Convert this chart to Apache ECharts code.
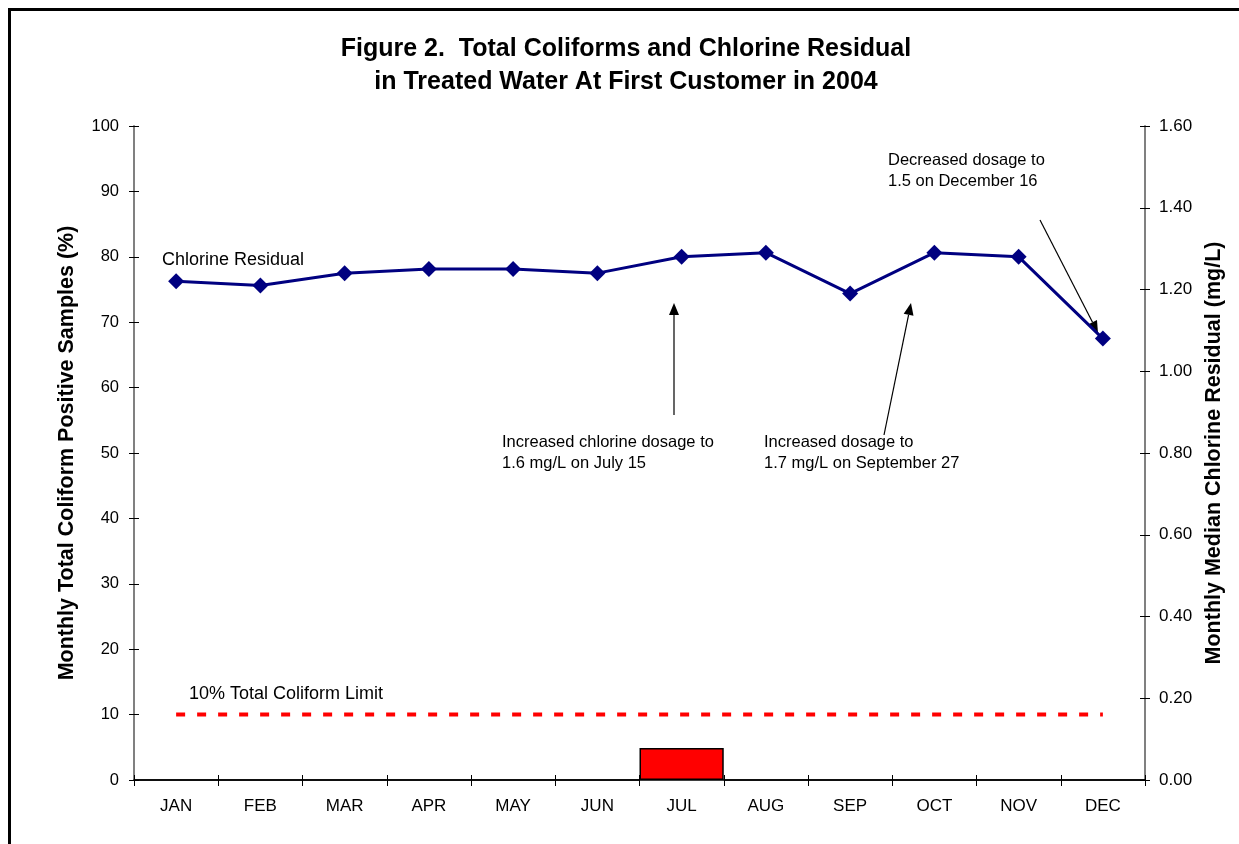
<!DOCTYPE html>
<html><head><meta charset="utf-8">
<script src="https://cdn.jsdelivr.net/npm/echarts@6/dist/echarts.min.js"></script>
<style>html,body{margin:0;padding:0;background:#fff}#c{width:1239px;height:844px}</style>
</head><body><div id="c"></div>
<script>
const months = ['JAN','FEB','MAR','APR','MAY','JUN','JUL','AUG','SEP','OCT','NOV','DEC'];
const coliformPct = [0,0,0,0,0,0,4.9,0,0,0,0,0];
const chlorine = [1.22,1.21,1.24,1.25,1.25,1.24,1.28,1.29,1.19,1.29,1.28,1.08];
const coliformLimit = [10,10,10,10,10,10,10,10,10,10,10,10];
const leftTicks = {min:0,max:100,interval:10};
const rightTicks = {min:0,max:1.6,interval:0.2};

const F = 'Liberation Sans, Arial, sans-serif';
const chart = echarts.init(document.getElementById('c'));
const txt = (x,y,t,size)=>({type:'text',x:x,y:y,style:{text:t,font:(size||16.5)+'px '+F,fill:'#000',verticalAlign:'middle'}});
const arrow = (x1,y1,x2,y2)=>{
  const a=Math.atan2(y2-y1,x2-x1), L=12, W=5;
  const bx=x2-L*Math.cos(a), by=y2-L*Math.sin(a);
  const px=-Math.sin(a)*W, py=Math.cos(a)*W;
  return [
    {type:'line',shape:{x1,y1,x2:bx,y2:by},style:{stroke:'#000',lineWidth:1.2}},
    {type:'polygon',shape:{points:[[x2,y2],[bx+px,by+py],[bx-px,by-py]]},style:{fill:'#000'}}
  ];
};
const innerTickAxis = (extra)=>Object.assign({axisLine:{show:false},axisLabel:{show:false},splitLine:{show:false},
  axisTick:{show:true,inside:true,length:5,lineStyle:{color:'#000'}}},extra);
chart.setOption({
  animation:false,
  grid:{left:134,right:94,top:126,bottom:64},
  xAxis:[{type:'category',data:months,boundaryGap:true,
    axisLine:{lineStyle:{color:'#000',width:1.5}},
    axisTick:{show:true,length:6,lineStyle:{color:'#000'}},
    axisLabel:{fontFamily:F,fontSize:17,color:'#000',margin:18}},
    innerTickAxis({type:'category',data:months,boundaryGap:true,position:'bottom'})],
  yAxis:[
    {type:'value',...leftTicks,position:'left',
     name:'Monthly Total Coliform Positive Samples (%)',nameLocation:'middle',nameGap:56,
     nameTextStyle:{fontFamily:F,fontSize:21.5,fontWeight:'bold',color:'#000'},
     axisLine:{show:true,lineStyle:{color:'#808080',width:2}},
     axisTick:{show:true,length:5,lineStyle:{color:'#000'}},
     splitLine:{show:false},
     axisLabel:{fontFamily:F,fontSize:16.5,color:'#000',margin:15}},
    {type:'value',...rightTicks,position:'right',
     name:'Monthly Median Chlorine Residual (mg/L)',nameLocation:'middle',nameGap:58,nameRotate:90,
     nameTextStyle:{fontFamily:F,fontSize:21.5,fontWeight:'bold',color:'#000'},
     axisLine:{show:true,lineStyle:{color:'#808080',width:2}},
     axisTick:{show:true,length:5,lineStyle:{color:'#000'}},
     splitLine:{show:false},
     axisLabel:{fontFamily:F,fontSize:17,color:'#000',margin:14,formatter:v=>v.toFixed(2)}},
    innerTickAxis({type:'value',...leftTicks,position:'left'}),
    innerTickAxis({type:'value',...rightTicks,position:'right'})
  ],
  series:[
    {type:'bar',data:coliformPct,yAxisIndex:0,barWidth:'100%',barCategoryGap:0,
     itemStyle:{color:'#ff0000',borderColor:'#000',borderWidth:1.5}},
    {type:'line',data:coliformLimit,yAxisIndex:0,symbol:'none',
     lineStyle:{color:'#ff0000',width:4,type:[9,12]}},
    {type:'line',data:chlorine,yAxisIndex:1,symbol:'diamond',symbolSize:16,
     lineStyle:{color:'#000080',width:3},itemStyle:{color:'#000080'}}
  ],
  graphic:[
    {type:'rect',shape:{x:9.5,y:9.5,width:1400,height:1000},style:{fill:'none',stroke:'#000',lineWidth:3}},
    {type:'text',x:626,y:49,style:{text:'Figure 2.  Total Coliforms and Chlorine Residual',font:'bold 25px '+F,fill:'#000',align:'center',verticalAlign:'middle'}},
    {type:'text',x:626,y:82,style:{text:'in Treated Water At First Customer in 2004',font:'bold 25px '+F,fill:'#000',align:'center',verticalAlign:'middle'}},
    txt(162,260,'Chlorine Residual',18),
    txt(189,694,'10% Total Coliform Limit',18),
    txt(502,442,'Increased chlorine dosage to'),
    txt(502,463,'1.6 mg/L on July 15'),
    txt(764,442,'Increased dosage to'),
    txt(764,463,'1.7 mg/L on September 27'),
    txt(888,160,'Decreased dosage to'),
    txt(888,181,'1.5 on December 16'),
    ...arrow(674,415,674,303),
    ...arrow(884,435,911,303),
    ...arrow(1040,220,1098,333)
  ]
});
</script></body></html>
